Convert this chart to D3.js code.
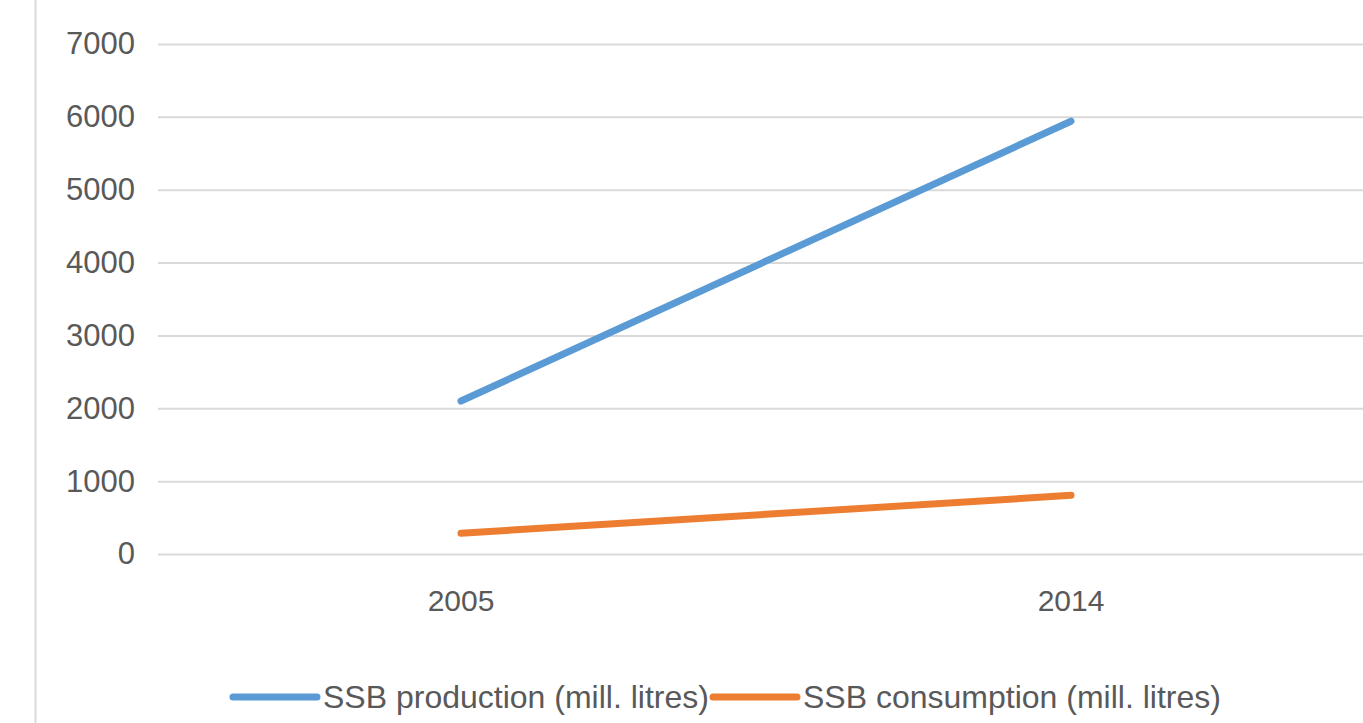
<!DOCTYPE html>
<html>
<head>
<meta charset="utf-8">
<script src="https://cdn.jsdelivr.net/npm/d3@7"></script>
<style>
  body { margin: 0; background: #fff; }
  svg { display: block; }
  .tick text { font-family: "Liberation Sans", sans-serif; fill: #595959; }
</style>
</head>
<body>
<svg id="chart"></svg>
<script>
// Data
const years = ['2005', '2014'];
const production = [2100, 5940];
const consumption = [285, 805];
const yTicks = [0, 1000, 2000, 3000, 4000, 5000, 6000, 7000];
const seriesNames = ['SSB production (mill. litres)', 'SSB consumption (mill. litres)'];
const seriesColors = ['#5b9bd5', '#ed7d31'];

const width = 1363, height = 723;
const svg = d3.select('#chart').attr('width', width).attr('height', height);

// outer frame line on the left
svg.append('line')
    .attr('x1', 35.5).attr('x2', 35.5)
    .attr('y1', 0).attr('y2', height)
    .attr('stroke', '#d9d9d9')
    .attr('stroke-width', 2);

// Scales
const x = d3.scaleBand().domain(years).range([156, 1376]);
const y = d3.scaleLinear().domain([0, 7000]).range([554, 44]);

// Gridlines + y labels
const yAxis = svg.append('g')
    .attr('transform', 'translate(158,0)')
    .call(d3.axisLeft(y).tickValues(yTicks).tickFormat(d3.format('d'))
        .tickSize(-(width - 158)).tickPadding(23));
yAxis.select('.domain').remove();
yAxis.selectAll('.tick line').attr('stroke', '#d9d9d9').attr('stroke-width', 2);
yAxis.selectAll('.tick text').attr('font-size', 31);

// x labels
const xAxis = svg.append('g')
    .attr('transform', 'translate(0,554)')
    .call(d3.axisBottom(x).tickSize(0).tickPadding(36));
xAxis.select('.domain').remove();
xAxis.selectAll('.tick text').attr('font-size', 30);

// Lines
const line = d3.line()
    .x((d, i) => x(years[i]) + x.bandwidth() / 2)
    .y(d => y(d));

[production, consumption].forEach((vals, i) => {
    svg.append('path')
        .datum(vals)
        .attr('fill', 'none')
        .attr('stroke', seriesColors[i])
        .attr('stroke-width', 7)
        .attr('stroke-linecap', 'round')
        .attr('d', line);
});

// Legend
const legendItems = [
    { name: seriesNames[0], color: seriesColors[0], x: 233 },
    { name: seriesNames[1], color: seriesColors[1], x: 713 }
];
const legend = svg.append('g').attr('class', 'legend');
legendItems.forEach(it => {
    legend.append('line')
        .attr('x1', it.x).attr('x2', it.x + 84)
        .attr('y1', 697).attr('y2', 697)
        .attr('stroke', it.color)
        .attr('stroke-width', 7)
        .attr('stroke-linecap', 'round');
    legend.append('text')
        .attr('x', it.x + 90)
        .attr('y', 708)
        .attr('font-family', '"Liberation Sans", sans-serif')
        .attr('font-size', 32)
        .attr('fill', '#595959')
        .text(it.name);
});
</script>
</body>
</html>
